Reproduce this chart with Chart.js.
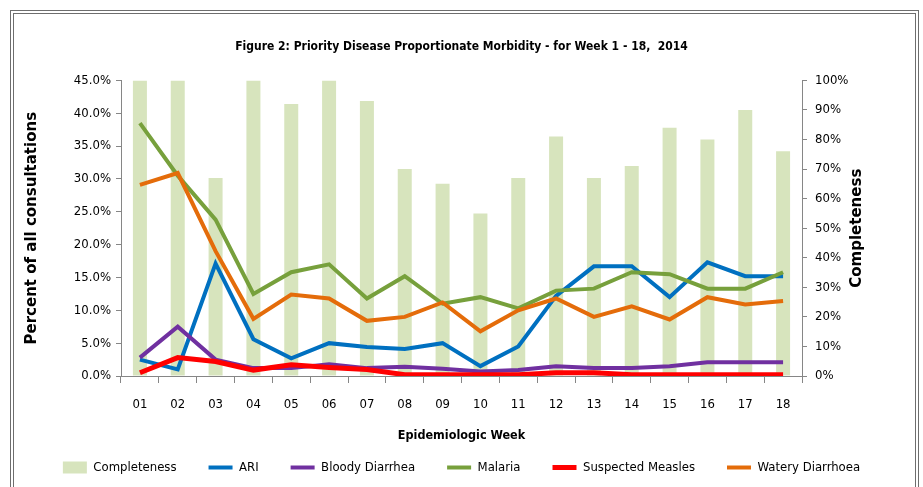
<!DOCTYPE html>
<html>
<head>
<meta charset="utf-8">
<script src="https://cdn.jsdelivr.net/npm/chart.js@4/dist/chart.umd.min.js"></script>
<style>
  html, body { margin: 0; padding: 0; background: #fff; }
  #wrap { position: relative; width: 923px; height: 487px; }
  #frame {
    position: absolute; left: 10px; top: 10px; width: 909px; height: 500px;
    border: 4px double #6e6e6e; box-sizing: border-box;
  }
  canvas { position: absolute; left: 0; top: 0; }
</style>
</head>
<body>
<div id="wrap">
  <div id="frame"></div>
  <canvas id="chart" width="923" height="487"></canvas>
</div>
<script>
const weeks = ['01', '02', '03', '04', '05', '06', '07', '08', '09', '10', '11', '12', '13', '14', '15', '16', '17', '18'];

// completeness (%), right axis
const completeness = [100, 100, 67, 100, 92, 100, 93, 70, 65, 55, 67, 81, 67, 71, 84, 80, 90, 76];

// percent of all consultations, left axis
const ari = [2.5, 1.0, 17.1, 5.6, 2.7, 5.0, 4.4, 4.1, 5.0, 1.5, 4.5, 12.2, 16.7, 16.7, 12.0, 17.3, 15.2, 15.2];
const bloodyDiarrhea = [2.8, 7.5, 2.5, 1.2, 1.2, 1.8, 1.2, 1.4, 1.1, 0.7, 0.9, 1.5, 1.2, 1.2, 1.5, 2.1, 2.1, 2.1];
const malaria = [38.5, 30.5, 23.8, 12.5, 15.8, 17.0, 11.8, 15.2, 11.0, 12.0, 10.3, 13.0, 13.3, 15.8, 15.5, 13.3, 13.3, 15.8];
const measles = [0.5, 2.8, 2.2, 0.9, 1.7, 1.3, 1.0, 0.2, 0.2, 0.2, 0.2, 0.5, 0.5, 0.2, 0.2, 0.2, 0.2, 0.2];
const wateryDiarrhoea = [29.1, 30.9, 19.0, 8.7, 12.4, 11.8, 8.4, 9.0, 11.2, 6.8, 10.0, 11.8, 9.0, 10.6, 8.6, 12.0, 10.9, 11.4];

const narrow = "'DejaVu Sans Condensed', 'Liberation Sans Narrow', sans-serif";
const axisGray = '#868686';
const legendGap = 32;

// legend items are spaced wide apart, but the row should stay compact
const legendSpacing = {
  id: 'legendSpacing',
  afterInit(chart) {
    const legend = chart.legend;
    const fit = legend.fit;
    legend.fit = function () {
      fit.call(this);
      this.height = 28;
    };
  },
  afterLayout(chart) {
    // row is drawn at top + padding; lift the top, keep the bottom for clipping
    chart.legend.top -= legendGap - 15;
  }
};

// right axis title reads bottom-to-top like the left one
const rightTitle = {
  id: 'rightTitle',
  afterDraw(chart) {
    const ctx = chart.ctx;
    const area = chart.chartArea;
    ctx.save();
    ctx.translate(857, (area.top + area.bottom) / 2);
    ctx.rotate(-Math.PI / 2);
    ctx.font = "bold 15px 'DejaVu Sans'";
    ctx.fillStyle = '#000';
    ctx.textAlign = 'center';
    ctx.textBaseline = 'middle';
    ctx.fillText('Completeness', 0, 0);
    ctx.restore();
  }
};

function lineSet(label, data, color, order, width) {
  return {
    type: 'line',
    label: label,
    data: data,
    borderColor: color,
    backgroundColor: color,
    borderWidth: width || 4,
    pointRadius: 0,
    pointStyle: 'line',
    tension: 0,
    yAxisID: 'y',
    order: order
  };
}

new Chart(document.getElementById('chart'), {
  data: {
    labels: weeks,
    datasets: [
      {
        type: 'bar',
        label: 'Completeness',
        data: completeness,
        backgroundColor: '#d7e4bd',
        borderWidth: 0,
        pointStyle: 'rect',
        yAxisID: 'y1',
        categoryPercentage: 1,
        barPercentage: 0.37,
        order: 10
      },
      lineSet('ARI', ari, '#0070c0', 5),
      lineSet('Bloody Diarrhea', bloodyDiarrhea, '#7030a0', 4),
      lineSet('Malaria', malaria, '#77a03c', 3),
      lineSet('Suspected Measles', measles, '#ff0000', 2, 5),
      lineSet('Watery Diarrhoea', wateryDiarrhoea, '#e46c0a', 1)
    ]
  },
  options: {
    responsive: false,
    animation: false,
    layout: {
      padding: { left: 14, right: 14, top: 10, bottom: 13 }
    },
    plugins: {
      title: {
        display: true,
        text: 'Figure 2: Priority Disease Proportionate Morbidity - for Week 1 - 18,  2014',
        color: '#000',
        font: { family: narrow, size: 12, weight: 'bold' },
        padding: { top: 30, bottom: 26 }
      },
      legend: {
        position: 'bottom',
        labels: {
          color: '#000',
          font: { family: narrow, size: 13 },
          usePointStyle: true,
          pointStyleWidth: 24,
          boxWidth: 24,
          boxHeight: 12,
          padding: legendGap,
          sort: (a, b) => a.datasetIndex - b.datasetIndex
        }
      },
      tooltip: { enabled: false }
    },
    scales: {
      x: {
        offset: true,
        grid: {
          offset: true,
          drawOnChartArea: false,
          drawTicks: true,
          tickLength: 7,
          color: axisGray
        },
        border: { color: axisGray },
        ticks: {
          color: '#000',
          font: { family: narrow, size: 13 },
          padding: 14,
          maxRotation: 0
        },
        title: {
          display: true,
          text: 'Epidemiologic Week',
          color: '#000',
          font: { family: narrow, size: 12.5, weight: 'bold' },
          padding: { top: 0, bottom: 3 }
        },
        afterFit(scale) { scale.height = 70; }
      },
      y: {
        position: 'left',
        min: 0,
        max: 45,
        grid: {
          drawOnChartArea: false,
          drawTicks: true,
          tickLength: 5,
          color: axisGray
        },
        border: { color: axisGray },
        ticks: {
          stepSize: 5,
          color: '#000',
          font: { family: narrow, size: 13 },
          padding: 5,
          callback: v => v.toFixed(1) + '%'
        },
        title: {
          display: true,
          text: 'Percent of all consultations',
          color: '#000',
          font: { family: 'DejaVu Sans', size: 15, weight: 'bold' },
          padding: { top: 9, bottom: 0 }
        },
        afterFit(scale) { scale.width = 107; }
      },
      y1: {
        position: 'right',
        min: 0,
        max: 100,
        grid: {
          drawOnChartArea: false,
          drawTicks: true,
          tickLength: 5,
          color: axisGray
        },
        border: { color: axisGray },
        ticks: {
          stepSize: 10,
          color: '#000',
          font: { family: narrow, size: 13 },
          padding: 8,
          callback: v => v + '%'
        },
        afterFit(scale) { scale.width = 107; }
      }
    }
  },
  plugins: [legendSpacing, rightTitle]
});
</script>
</body>
</html>
